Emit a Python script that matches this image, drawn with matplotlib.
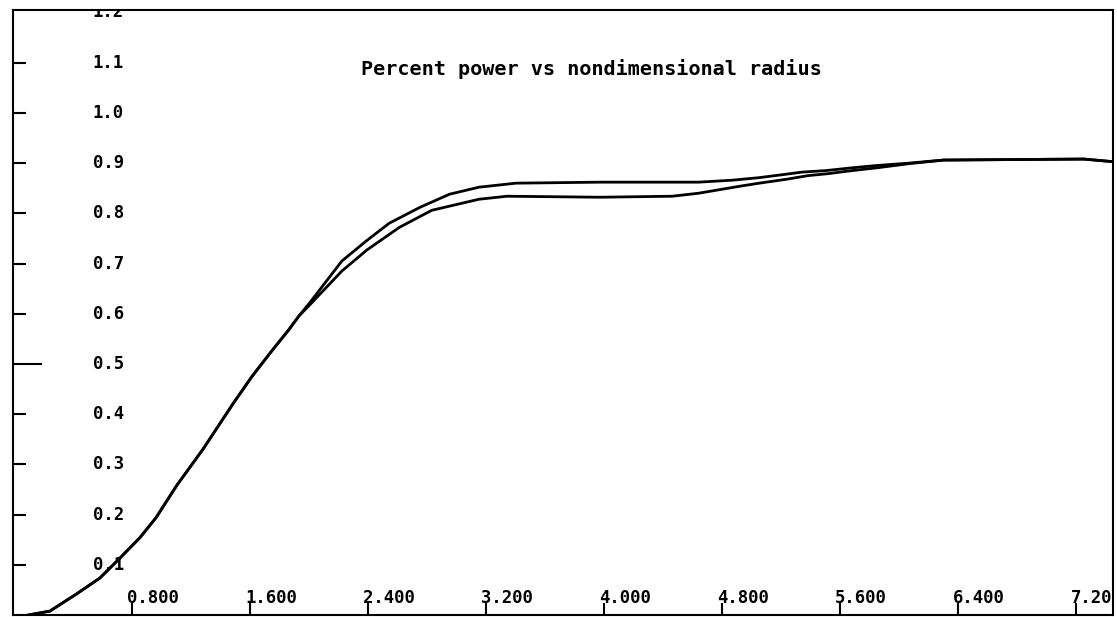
import matplotlib
matplotlib.use('Agg')
import matplotlib.pyplot as plt

# rise shared by both runs, up to where they split
x_rise = [0.09, 0.24, 0.42, 0.58, 0.71, 0.85, 0.96, 1.10, 1.28, 1.48, 1.61, 1.75, 1.86, 1.93]
y_rise = [0.0, 0.008, 0.042, 0.074, 0.112, 0.154, 0.194, 0.258, 0.331, 0.420, 0.475, 0.528, 0.568, 0.596]

# upper run
x_up = [2.00, 2.22, 2.39, 2.54, 2.75, 2.95, 3.15, 3.40, 3.97, 4.64, 4.87, 5.05, 5.21, 5.34,
        5.50, 5.66, 5.84, 6.07, 6.30, 7.25, 7.44]
y_up = [0.621, 0.705, 0.746, 0.780, 0.812, 0.838, 0.852, 0.860, 0.862, 0.862, 0.866, 0.871,
        0.877, 0.882, 0.885, 0.890, 0.895, 0.900, 0.906, 0.908, 0.903]

# lower run
x_lo = [2.00, 2.22, 2.39, 2.61, 2.83, 3.15, 3.34, 3.97, 4.46, 4.64, 4.78, 4.92, 5.05, 5.24,
        5.38, 5.52, 5.65, 5.86, 6.07, 6.30, 7.25, 7.44]
y_lo = [0.617, 0.685, 0.727, 0.772, 0.806, 0.828, 0.834, 0.832, 0.834, 0.840, 0.847, 0.854,
        0.860, 0.868, 0.875, 0.879, 0.884, 0.891, 0.899, 0.906, 0.908, 0.903]

xticks = [0.8, 1.6, 2.4, 3.2, 4.0, 4.8, 5.6, 6.4, 7.2]
xlabels = ['0.800', '1.600', '2.400', '3.200', '4.000', '4.800', '5.600', '6.400', '7.20']
yticks = [0.1, 0.2, 0.3, 0.4, 0.5, 0.6, 0.7, 0.8, 0.9, 1.0, 1.1, 1.2]
ylabels = ['0.1', '0.2', '0.3', '0.4', '0.5', '0.6', '0.7', '0.8', '0.9', '1.0', '1.1', '1.2']

mono = 'DejaVu Sans Mono'

fig = plt.figure(figsize=(11.17, 6.17), dpi=100)
ax = fig.add_axes([0.0116, 0.003, 0.985, 0.981])

ax.plot(x_rise + x_up, y_rise + y_up, color='black', lw=2.0)
ax.plot(x_rise + x_lo, y_rise + y_lo, color='black', lw=2.0)

ax.set_xlim(-0.01, 7.45)
ax.set_ylim(0.0, 1.205)

for s in ax.spines.values():
    s.set_linewidth(1.5)

# ticks point into the plot, the 0.5 one is longer
ax.set_xticks(xticks)
ax.set_xticklabels([])
ax.set_yticks([t for t in yticks if t not in (0.5, 1.2)])
ax.set_yticks([0.5], minor=True)
ax.set_yticklabels([])
ax.tick_params(axis='x', direction='in', length=8.6, width=1.5)
ax.tick_params(axis='y', which='major', direction='in', length=9.4, width=1.5)
ax.tick_params(axis='y', which='minor', direction='in', length=21, width=1.5)

for t, lab in zip(yticks, ylabels):
    ax.text(0.53, t, lab, ha='left', va='center', fontsize=12.4,
            family=mono, weight='bold', clip_on=True)

for t, lab in zip(xticks, xlabels):
    ax.text(t - 0.035, 0.034, lab, ha='left', va='center', fontsize=12.4,
            family=mono, weight='bold', clip_on=False)

ax.text(3.91, 1.088, 'Percent power vs nondimensional radius', ha='center',
        va='center', fontsize=14.5, family=mono, weight='bold')

fig.savefig('out.png', dpi=100)
